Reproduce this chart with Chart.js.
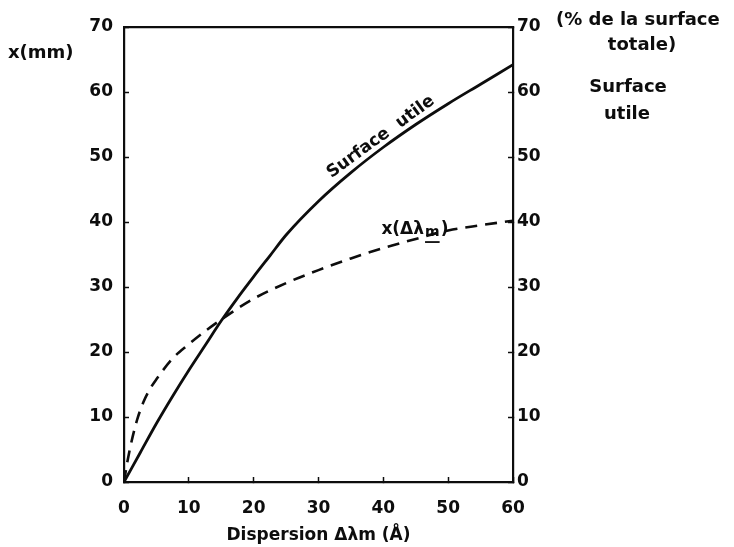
<!DOCTYPE html>
<html>
<head>
<meta charset="utf-8">
<script src="https://cdn.jsdelivr.net/npm/chart.js@4.4.0/dist/chart.umd.min.js"></script>
<style>
    body { margin: 0; background: #fff; }
    canvas { display: block; }
</style>
</head>
<body>
<canvas id="chart" width="734" height="547"></canvas>
<script>
// Surface utile (courbe pleine), en % de la surface totale
const surfaceX = [0, 2.5, 5, 7.5, 10, 12.5, 15, 17.5, 20, 22.5, 25, 30, 35, 40, 45, 50, 55, 60];
const surfaceY = [0, 4.5, 9, 13.2, 17.2, 21, 24.8, 28.3, 31.6, 34.8, 38, 43.2, 47.6, 51.5, 55, 58.2, 61.2, 64.2];

// x(Δλm) en mm (courbe tiretée)
const dispX = [0, 0.5, 1, 2, 3, 4, 5, 7.5, 10, 12.5, 15, 20, 25, 30, 35, 40, 45, 50, 55, 60];
const dispY = [0, 3, 5.5, 9.5, 12.3, 14.3, 15.8, 19, 21.2, 23.2, 25, 28.2, 30.6, 32.6, 34.4, 36, 37.4, 38.7, 39.5, 40.2];

// Graduations
const xTicks = [0, 10, 20, 30, 40, 50, 60];
const yTicks = [0, 10, 20, 30, 40, 50, 60, 70];

const FONT = 'DejaVu Sans';
const INK = '#0d0d0d';

function toPoints(xs, ys) {
    return xs.map((x, i) => ({ x: x, y: ys[i] }));
}

function tickList(list) {
    return function(scale) {
        scale.ticks = list.map(v => ({ value: v }));
    };
}

// Textes ajoutés (étiquettes des courbes, titres des axes verticaux)
const labelsPlugin = {
    id: 'labels',
    afterDraw(chart) {
        const ctx = chart.ctx;
        const xs = chart.scales.x;
        const ys = chart.scales.y;
        ctx.save();
        ctx.fillStyle = INK;
        ctx.font = 'bold 18px "' + FONT + '"';
        ctx.textBaseline = 'middle';

        // x(mm) à gauche
        ctx.textAlign = 'left';
        ctx.fillText('x(mm)', 8, 53);

        // titre à droite
        ctx.fillText('(% de la surface', 556, 20);
        ctx.textAlign = 'center';
        ctx.fillText('totale)', 642, 45);
        ctx.fillText('Surface', 628, 87);
        ctx.fillText('utile', 627, 114);

        // étiquette inclinée "Surface utile"
        ctx.font = 'bold 17px "' + FONT + '"';
        ctx.save();
        ctx.translate(xs.getPixelForValue(39.6), ys.getPixelForValue(53.1));
        ctx.rotate(-36 * Math.PI / 180);
        ctx.textAlign = 'center';
        ctx.fillText('Surface  utile', 0, 0);
        ctx.restore();

        // étiquette x(Δλm)
        let px = xs.getPixelForValue(39.7);
        const py = ys.getPixelForValue(38.9);
        ctx.textAlign = 'left';
        ctx.fillText('x(Δλ', px, py);
        px += ctx.measureText('x(Δλ').width + 1;
        ctx.font = 'bold 14px "' + FONT + '"';
        ctx.fillText('m', px, py + 3);
        const mw = ctx.measureText('m').width;
        ctx.fillRect(px, py + 12, mw, 1.8);
        ctx.font = 'bold 17px "' + FONT + '"';
        ctx.fillText(')', px + mw + 1, py);
        ctx.restore();
    }
};

const tickFont = { family: FONT, size: 17, weight: 'bold' };

new Chart(document.getElementById('chart'), {
    type: 'line',
    data: {
        datasets: [
            {
                label: 'Surface utile',
                data: toPoints(surfaceX, surfaceY),
                borderColor: INK,
                borderWidth: 2.8,
                pointRadius: 0,
                fill: false,
                cubicInterpolationMode: 'monotone',
                yAxisID: 'y2'
            },
            {
                label: 'x(Δλm)',
                data: toPoints(dispX, dispY),
                borderColor: INK,
                borderWidth: 2.6,
                borderDash: [12, 8],
                pointRadius: 0,
                fill: false,
                cubicInterpolationMode: 'monotone',
                yAxisID: 'y'
            }
        ]
    },
    options: {
        responsive: false,
        animation: false,
        layout: { padding: 0 },
        plugins: {
            legend: { display: false },
            tooltip: { enabled: false }
        },
        scales: {
            x: {
                type: 'linear',
                position: 'bottom',
                min: 0,
                max: 60,
                afterBuildTicks: tickList(xTicks),
                afterFit: s => { s.height = 65; },
                grid: { drawOnChartArea: false, tickLength: -5, tickWidth: 1.5, tickColor: INK },
                border: { color: INK, width: 2.2 },
                ticks: { color: INK, font: tickFont, padding: 21, maxRotation: 0 },
                title: {
                    display: true,
                    text: 'Dispersion Δλm (Å)',
                    color: INK,
                    font: tickFont,
                    padding: { top: 0, bottom: 1 }
                }
            },
            x2: {
                type: 'linear',
                position: 'top',
                min: 0,
                max: 60,
                afterFit: s => { s.height = 27; },
                grid: { display: false },
                border: { color: INK, width: 2.2 },
                ticks: { display: false }
            },
            y: {
                type: 'linear',
                position: 'left',
                min: 0,
                max: 70,
                afterBuildTicks: tickList(yTicks),
                afterFit: s => { s.width = 124; },
                grid: { drawOnChartArea: false, tickLength: -5, tickWidth: 1.5, tickColor: INK },
                border: { color: INK, width: 2.2 },
                ticks: { color: INK, font: tickFont, padding: 16 }
            },
            y2: {
                type: 'linear',
                position: 'right',
                min: 0,
                max: 70,
                afterBuildTicks: tickList(yTicks),
                afterFit: s => { s.width = 221; },
                grid: { drawOnChartArea: false, tickLength: -5, tickWidth: 1.5, tickColor: INK },
                border: { color: INK, width: 2.2 },
                ticks: { color: INK, font: tickFont, padding: 9 }
            }
        }
    },
    plugins: [labelsPlugin]
});
</script>
</body>
</html>
